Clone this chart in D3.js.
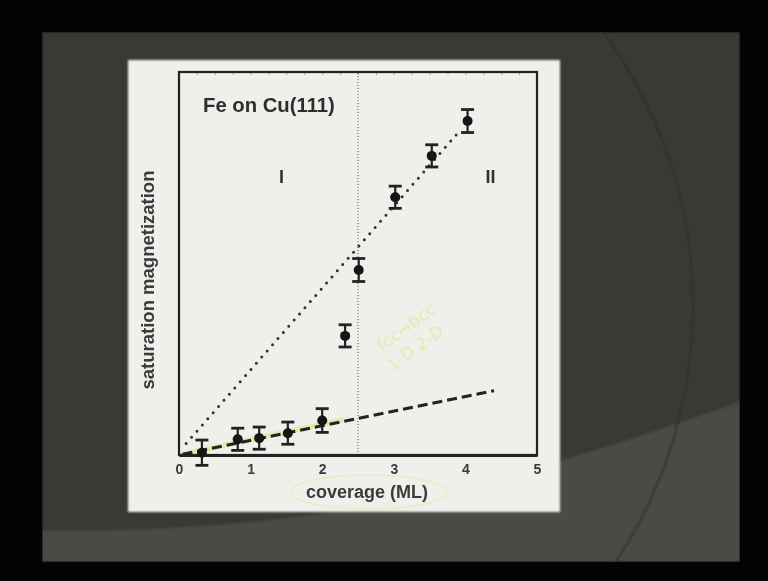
<!DOCTYPE html>
<html><head><meta charset="utf-8">
<script src="https://cdn.jsdelivr.net/npm/d3@7/dist/d3.min.js"></script>
<style>html,body{margin:0;padding:0;background:#000;}svg{display:block;}</style>
</head><body>
<script>
// ---- data ----
const coverage = [0.32, 0.82, 1.12, 1.52, 2.0, 2.32, 2.51, 3.02, 3.53, 4.03];
const magnetization = [0.06, 0.41, 0.44, 0.57, 0.90, 3.11, 4.83, 6.73, 7.81, 8.72];
const errorBar = [0.33, 0.29, 0.29, 0.29, 0.31, 0.29, 0.30, 0.29, 0.29, 0.30];
const xTicks = [0, 1, 2, 3, 4, 5];
const dottedFit = [[0.1, 0.3], [3.9, 8.42]];
const dashedFit = [[0.05, 0.02], [4.4, 1.68]];
const highlightFit = [[0.0, 0.0], [2.3, 0.92]];
const boundary = 2.5;
const title = "Fe on Cu(111)";
const xLabel = "coverage (ML)";
const yLabel = "saturation magnetization";
const regionLabels = [{t: "I", x: 1.43}, {t: "II", x: 4.35}];
const handNotes = ["fcc\u2192bcc", "1-D  2-D"];

const W = 768, H = 581;
const svg = d3.select("body").append("svg").attr("width", W).attr("height", H);
const defs = svg.append("defs");
defs.append("filter").attr("id", "soft").append("feGaussianBlur").attr("stdDeviation", 0.6);
defs.append("filter").attr("id", "bgsoft").append("feGaussianBlur").attr("stdDeviation", 1.2);
defs.append("clipPath").attr("id", "slideClip").append("rect")
  .attr("x", 42).attr("y", 32).attr("width", 698).attr("height", 530);

// ---- background (photographed slide) ----
svg.append("rect").attr("width", W).attr("height", H).attr("fill", "#030303");
const bg = svg.append("g").attr("clip-path", "url(#slideClip)").attr("filter", "url(#bgsoft)");
bg.append("rect").attr("x", 42).attr("y", 32).attr("width", 698).attr("height", 530).attr("fill", "#393a36");
bg.append("path").attr("d", "M42,531 C300,532 470,498 740,402 L740,562 L42,562 Z").attr("fill", "#4a4b47");
bg.append("circle").attr("cx", 231).attr("cy", 306).attr("r", 462)
  .attr("fill", "none").attr("stroke", "#2b2c29").attr("stroke-width", 1.6);

// ---- white figure panel ----
svg.append("rect").attr("x", 128).attr("y", 60).attr("width", 432).attr("height", 452)
  .attr("fill", "#efefec").attr("filter", "url(#bgsoft)");

// ---- chart ----
const x = d3.scaleLinear().domain([0, 5]).range([179, 537]);
const y = d3.scaleLinear().domain([0, 10]).range([455, 72]);
const g = svg.append("g").attr("filter", "url(#soft)");
const ink = "#222";

// faint minor ticks on top
g.append("g").attr("transform", `translate(0,${y(10)})`)
  .call(d3.axisBottom(x).tickValues(d3.range(0, 5.01, 0.25)).tickSize(3).tickFormat(""))
  .call(a => a.select(".domain").remove())
  .call(a => a.selectAll("line").attr("stroke", "#a5a5a2"));

// region boundary
g.append("line").attr("x1", x(boundary)).attr("x2", x(boundary)).attr("y1", y(0)).attr("y2", y(10))
  .attr("stroke", "#555").attr("stroke-width", 1).attr("stroke-dasharray", "1,2");

const line = d3.line().x(d => x(d[0])).y(d => y(d[1]));

// yellow highlighter on low-coverage fit
g.append("path").attr("d", line(highlightFit)).attr("fill", "none")
  .attr("stroke", "#d6e66a").attr("stroke-width", 5).attr("stroke-opacity", 0.5);

// fits
g.append("path").attr("d", line(dottedFit)).attr("fill", "none").attr("stroke", "#333")
  .attr("stroke-width", 3).attr("stroke-linecap", "round").attr("stroke-dasharray", "0,8.2");
g.append("path").attr("d", line(dashedFit)).attr("fill", "none").attr("stroke", "#222")
  .attr("stroke-width", 3).attr("stroke-dasharray", "10,5");

// frame + bottom axis
g.append("rect").attr("x", x(0)).attr("y", y(10)).attr("width", x(5) - x(0)).attr("height", y(0) - y(10))
  .attr("fill", "none").attr("stroke", ink).attr("stroke-width", 2.2);
const xa = g.append("g").attr("transform", `translate(0,${y(0)})`)
  .call(d3.axisBottom(x).tickValues(xTicks).tickSize(0).tickPadding(9).tickFormat(d3.format("d")));
xa.select(".domain").attr("stroke", ink).attr("stroke-width", 3);
xa.selectAll("text").attr("font-family", "Liberation Sans, Arial, sans-serif").attr("font-weight", "bold")
  .attr("font-size", 14).attr("fill", "#3a3a3a");

// data with error bars
const pts = coverage.map((c, i) => ({c, m: magnetization[i], e: errorBar[i]}));
const eb = g.append("g").selectAll("g").data(pts).join("g");
eb.append("line").attr("x1", d => x(d.c)).attr("x2", d => x(d.c))
  .attr("y1", d => y(d.m - d.e)).attr("y2", d => y(d.m + d.e)).attr("stroke", ink).attr("stroke-width", 2.2);
[1, -1].forEach(s => {
  eb.append("line").attr("x1", d => x(d.c) - 6.5).attr("x2", d => x(d.c) + 6.5)
    .attr("y1", d => y(d.m + s * d.e)).attr("y2", d => y(d.m + s * d.e))
    .attr("stroke", ink).attr("stroke-width", 2.8);
});
eb.append("circle").attr("cx", d => x(d.c)).attr("cy", d => y(d.m)).attr("r", 5).attr("fill", "#121212");

// texts
const font = "Liberation Sans, Arial, Helvetica, sans-serif";
g.append("text").attr("x", 203).attr("y", 112).text(title).attr("font-family", font)
  .attr("font-weight", "bold").attr("font-size", 20.3).attr("fill", "#2e2e2e");
g.selectAll(".reg").data(regionLabels).join("text").attr("class", "reg")
  .attr("x", d => x(d.x)).attr("y", 183).attr("text-anchor", "middle").text(d => d.t)
  .attr("font-family", font).attr("font-weight", "bold").attr("font-size", 18).attr("fill", "#333");
g.append("text").attr("x", 367).attr("y", 498).attr("text-anchor", "middle").text(xLabel)
  .attr("font-family", font).attr("font-weight", "bold").attr("font-size", 18).attr("fill", "#3a3a3a");
g.append("text").attr("transform", "translate(154,280) rotate(-90)").attr("text-anchor", "middle")
  .text(yLabel).attr("font-family", font).attr("font-weight", "bold").attr("font-size", 18.5).attr("fill", "#3a3a3a");

// hand-drawn yellow annotations (faint)
g.append("ellipse").attr("cx", 369).attr("cy", 492).attr("rx", 78).attr("ry", 17)
  .attr("fill", "none").attr("stroke", "#e8edc0").attr("stroke-width", 1.5);
g.append("text").attr("transform", "translate(382,352) rotate(-36)").text(handNotes[0])
  .attr("font-family", "DejaVu Sans, sans-serif").attr("font-size", 17).attr("fill", "#e6eaad");
g.append("text").attr("transform", "translate(392,372) rotate(-36)").text(handNotes[1])
  .attr("font-family", "DejaVu Sans, sans-serif").attr("font-size", 17).attr("fill", "#e6eaad");
</script>
</body></html>
